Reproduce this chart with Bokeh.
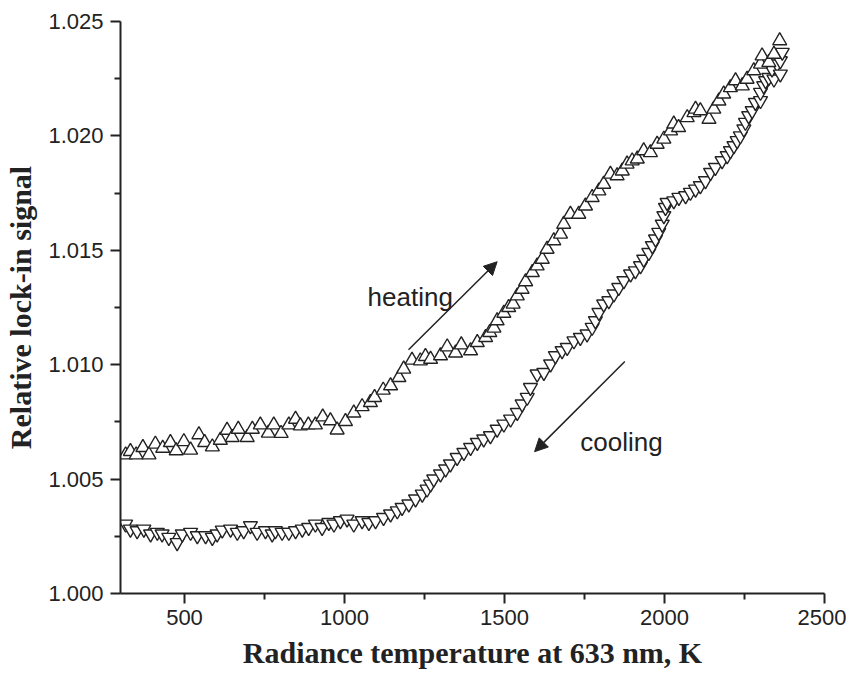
from bokeh.plotting import figure
from bokeh.models import (FixedTicker, NumeralTickFormatter, Arrow, NormalHead,
                          Label, ColumnDataSource, Range1d)
from bokeh.embed import file_html
from bokeh.resources import INLINE

# ---- data ----
heat_T = [316, 331, 349, 370, 389, 409, 432, 456, 474, 498, 519, 545, 563, 587, 612,
          633, 649, 668, 696, 712, 737, 762, 779, 802, 826, 847, 862, 887, 909, 932,
          956, 977, 1003, 1029, 1055, 1081, 1094, 1121, 1144, 1170, 1185, 1211, 1237,
          1253, 1269, 1300, 1321, 1347, 1365, 1394, 1415, 1441, 1454, 1467, 1477, 1498,
          1513, 1527, 1540, 1555, 1566, 1587, 1602, 1618, 1633, 1654, 1675, 1685, 1706,
          1732, 1753, 1774, 1795, 1810, 1831, 1852, 1868, 1883, 1899, 1915, 1935, 1956,
          1977, 1998, 2019, 2029, 2044, 2071, 2092, 2097, 2112, 2139, 2154, 2170, 2185,
          2206, 2222, 2243, 2258, 2279, 2300, 2305, 2326, 2342, 2360]
heat_S = [1.00606, 1.00621, 1.00606, 1.00638, 1.00606, 1.00653, 1.00635, 1.00660, 1.00624,
          1.00664, 1.00627, 1.00694, 1.00660, 1.00641, 1.00670, 1.00714, 1.00682, 1.00718,
          1.00682, 1.00718, 1.00737, 1.00701, 1.00737, 1.00700, 1.00737, 1.00762, 1.00733,
          1.00737, 1.00737, 1.00772, 1.00755, 1.00715, 1.00752, 1.00789, 1.00817, 1.00835,
          1.00857, 1.00889, 1.00908, 1.00944, 1.00981, 1.01020, 1.01017, 1.01036, 1.01024,
          1.01039, 1.01078, 1.01051, 1.01087, 1.01061, 1.01097, 1.01119, 1.01141, 1.01160,
          1.01192, 1.01225, 1.01250, 1.01265, 1.01301, 1.01330, 1.01363, 1.01403, 1.01432,
          1.01461, 1.01505, 1.01542, 1.01571, 1.01614, 1.01658, 1.01658, 1.01694, 1.01731,
          1.01760, 1.01789, 1.01833, 1.01826, 1.01847, 1.01877, 1.01891, 1.01899, 1.01935,
          1.01927, 1.01964, 1.01986, 1.02022, 1.02052, 1.02037, 1.02080, 1.02102, 1.02117,
          1.02110, 1.02073, 1.02117, 1.02153, 1.02183, 1.02211, 1.02241, 1.02219, 1.02248,
          1.02285, 1.02314, 1.02350, 1.02321, 1.02357, 1.02416]

cool_T = [316, 331, 352, 373, 394, 415, 430, 451, 477, 493, 519, 540, 566, 587, 602,
          618, 644, 665, 685, 706, 727, 753, 774, 784, 805, 826, 847, 868, 888, 909,
          930, 951, 967, 987, 1008, 1029, 1055, 1076, 1097, 1122, 1144, 1165, 1180,
          1201, 1222, 1243, 1258, 1269, 1279, 1300, 1316, 1331, 1352, 1373, 1394, 1415,
          1435, 1456, 1477, 1498, 1519, 1540, 1555, 1571, 1581, 1602, 1623, 1644, 1659,
          1680, 1696, 1717, 1737, 1758, 1774, 1784, 1795, 1810, 1826, 1842, 1857, 1873,
          1894, 1909, 1925, 1935, 1951, 1962, 1972, 1982, 1993, 1998, 2003, 2008, 2029,
          2045, 2066, 2081, 2097, 2112, 2128, 2144, 2159, 2180, 2196, 2206, 2217, 2227,
          2237, 2248, 2253, 2263, 2274, 2284, 2300, 2300, 2310, 2316, 2326, 2342, 2336,
          2352, 2362, 2362, 2368]
cool_S = [1.00303, 1.00281, 1.00274, 1.00281, 1.00260, 1.00267, 1.00260, 1.00245, 1.00222,
          1.00260, 1.00267, 1.00252, 1.00252, 1.00245, 1.00260, 1.00277, 1.00281, 1.00267,
          1.00274, 1.00296, 1.00267, 1.00274, 1.00260, 1.00274, 1.00267, 1.00267, 1.00274,
          1.00281, 1.00288, 1.00303, 1.00288, 1.00310, 1.00303, 1.00318, 1.00325, 1.00303,
          1.00318, 1.00310, 1.00318, 1.00332, 1.00347, 1.00361, 1.00376, 1.00391, 1.00413,
          1.00434, 1.00456, 1.00478, 1.00500, 1.00522, 1.00544, 1.00566, 1.00594, 1.00616,
          1.00638, 1.00660, 1.00675, 1.00689, 1.00718, 1.00740, 1.00762, 1.00791, 1.00828,
          1.00857, 1.00900, 1.00959, 1.00966, 1.01003, 1.01039, 1.01061, 1.01075, 1.01104,
          1.01119, 1.01134, 1.01163, 1.01192, 1.01228, 1.01265, 1.01279, 1.01309, 1.01337,
          1.01367, 1.01396, 1.01410, 1.01432, 1.01461, 1.01490, 1.01520, 1.01549, 1.01578,
          1.01614, 1.01651, 1.01687, 1.01709, 1.01716, 1.01731, 1.01738, 1.01753, 1.01767,
          1.01782, 1.01804, 1.01840, 1.01862, 1.01891, 1.01913, 1.01935, 1.01957, 1.01979,
          1.02000, 1.02030, 1.02059, 1.02088, 1.02110, 1.02146, 1.02154, 1.02190, 1.02219,
          1.02241, 1.02255, 1.02248, 1.02292, 1.02314, 1.02270, 1.02328, 1.02365]

x_major = [500, 1000, 1500, 2000, 2500]
x_minor = [750, 1250, 1750, 2250]
y_major = [1.000, 1.005, 1.010, 1.015, 1.020, 1.025]
y_minor = [1.0025, 1.0075, 1.0125, 1.0175, 1.0225]

x_label = "Radiance temperature at 633 nm, K"
y_label = "Relative lock-in signal"

INK = "#222222"

p = figure(width=846, height=672, output_backend="svg", toolbar_location=None,
           x_range=Range1d(300, 2500), y_range=Range1d(1.0, 1.025),
           min_border_left=120, min_border_right=22, min_border_top=21,
           min_border_bottom=79)
p.outline_line_color = None
p.grid.visible = False
p.background_fill_color = "white"
p.border_fill_color = "white"

p.xaxis.ticker = FixedTicker(ticks=x_major, minor_ticks=x_minor)
p.yaxis.ticker = FixedTicker(ticks=y_major, minor_ticks=y_minor)
p.yaxis.formatter = NumeralTickFormatter(format="0.000")

for ax in (p.xaxis[0], p.yaxis[0]):
    ax.axis_line_width = 2
    ax.axis_line_color = INK
    ax.major_tick_line_width = 2
    ax.major_tick_line_color = INK
    ax.minor_tick_line_width = 2
    ax.minor_tick_line_color = INK
    ax.major_tick_in = 0
    ax.major_tick_out = 10
    ax.minor_tick_in = 0
    ax.minor_tick_out = 6
    ax.major_label_text_font = "Liberation Sans"
    ax.major_label_text_font_size = "22px"
    ax.major_label_text_color = INK
    ax.axis_label_text_font = "Liberation Serif"
    ax.axis_label_text_font_style = "bold"
    ax.axis_label_text_font_size = "30px"
    ax.axis_label_text_color = INK

p.xaxis.axis_label = x_label
p.yaxis.axis_label = y_label
p.xaxis.major_label_standoff = 6
p.xaxis.axis_label_standoff = 8
p.yaxis.major_label_standoff = 7
p.yaxis.axis_label_standoff = 8

heat = ColumnDataSource(dict(x=heat_T, y=heat_S))
cool = ColumnDataSource(dict(x=cool_T, y=cool_S))
p.scatter("x", "y", source=cool, marker="inverted_triangle", size=14,
          fill_color="white", line_color=INK, line_width=1.4)
p.scatter("x", "y", source=heat, marker="triangle", size=14,
          fill_color="white", line_color=INK, line_width=1.4)

p.add_layout(Arrow(end=NormalHead(size=13, fill_color=INK, line_color=INK, line_width=1),
                   x_start=1200, y_start=1.01065, x_end=1477, y_end=1.0145,
                   line_width=1.5, line_color=INK))
p.add_layout(Arrow(end=NormalHead(size=13, fill_color=INK, line_color=INK, line_width=1),
                   x_start=1876, y_start=1.01014, x_end=1594, y_end=1.0062,
                   line_width=1.5, line_color=INK))

p.add_layout(Label(x=1072, y=1.01294, text="heating", text_font="Liberation Sans",
                   text_font_size="26px", text_color=INK, text_baseline="alphabetic"))
p.add_layout(Label(x=1737, y=1.0066, text="cooling", text_font="Liberation Sans",
                   text_font_size="26px", text_color=INK, text_baseline="alphabetic"))

open("out.html", "w").write(file_html(p, INLINE))
